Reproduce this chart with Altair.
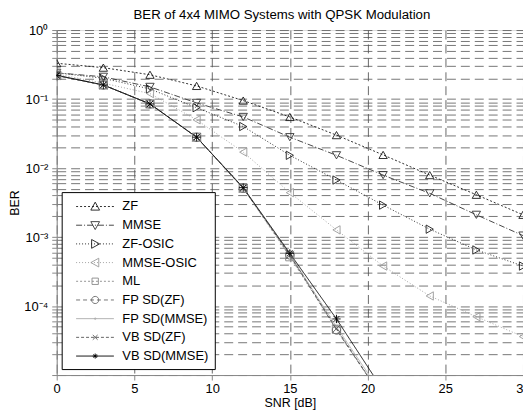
import altair as alt
import pandas as pd

# ---- data ----
snr = [0, 3, 6, 9, 12, 15, 18, 21, 24, 27, 30]
snr_sd = [0, 3, 6, 9, 12, 15, 18, 21]

zf = [0.33, 0.285, 0.225, 0.155, 0.095, 0.055, 0.030, 0.0155, 0.0079, 0.0041, 0.0021]
mmse = [0.24, 0.21, 0.15, 0.088, 0.055, 0.028, 0.0153, 0.0079, 0.0043, 0.0021, 0.00105]
zf_osic = [0.24, 0.20, 0.14, 0.075, 0.040, 0.0153, 0.0067, 0.0029, 0.0013, 0.00065, 0.00038]
mmse_osic = [0.23, 0.17, 0.12, 0.05, 0.017, 0.0044, 0.00127, 0.00038, 0.00014, 0.00007, 0.000036]
ml = [0.22, 0.16, 0.085, 0.028, 0.0051, 0.00052, 0.000046, 0.0000045]
fp_sd_zf = [0.22, 0.16, 0.085, 0.028, 0.0051, 0.00055, 0.000045, 0.0000045]
fp_sd_mmse = [0.22, 0.16, 0.085, 0.028, 0.0051, 0.00056, 0.000050, 0.000005]
vb_sd_zf = [0.22, 0.16, 0.085, 0.028, 0.0051, 0.00055, 0.000047, 0.0000045]
vb_sd_mmse = [0.22, 0.16, 0.085, 0.028, 0.0052, 0.00058, 0.000065, 0.000006]

series_names = ["ZF", "MMSE", "ZF-OSIC", "MMSE-OSIC", "ML",
                "FP SD(ZF)", "FP SD(MMSE)", "VB SD(ZF)", "VB SD(MMSE)"]
series_x = [snr, snr, snr, snr, snr_sd, snr_sd, snr_sd, snr_sd, snr_sd]
series_y = [zf, mmse, zf_osic, mmse_osic, ml, fp_sd_zf, fp_sd_mmse, vb_sd_zf, vb_sd_mmse]

x_ticks = [0, 5, 10, 15, 20, 25, 30]
y_tick_vals = [1, 0.1, 0.01, 0.001, 0.0001]
y_tick_labels = ["10⁰", "10⁻¹", "10⁻²", "10⁻³", "10⁻⁴"]
y_grid = [m * 10.0 ** e for e in range(-5, 0) for m in range(1, 10)] + [1]

title_text = "BER of 4x4 MIMO Systems with QPSK Modulation"

# ---- styles ----
colors = ["#1a1a1a", "#333333", "#1a1a1a", "#9a9a9a", "#8a8a8a",
          "#666666", "#aaaaaa", "#555555", "#000000"]
dashes = [[2, 2], [6, 2, 1, 2], [1, 2], [1, 2], [2, 2],
          [4, 3], [1, 0], [3, 2], [1, 0]]
plot_shapes = [
    "triangle-up", "triangle-down", "triangle-right", "triangle-left", "square",
    "circle", "M-0.25,0A0.25,0.25 0 1,1 0.25,0A0.25,0.25 0 1,1 -0.25,0",
    "M-1,-1L1,1M-1,1L1,-1",
    "M-1,0H1M0,-1V1M-0.7,-0.7L0.7,0.7M-0.7,0.7L0.7,-0.7",
]

UNIT = 8.0  # legend symbolSize 256 -> half width 8px


def seg_path(pattern):
    total = 4.75
    if pattern[1] == 0:
        return "M0,0H%.3f" % total
    out, pos, i, on = [], 0.0, 0, True
    while pos < total:
        L = pattern[i % len(pattern)] / UNIT
        if on:
            out.append("M%.3f,0H%.3f" % (pos, min(total, pos + L)))
        pos += L
        on = not on
        i += 1
    return "".join(out)


c = 2.4
legend_markers = [
    "M%.2f,-0.55L%.2f,0.45L%.2f,0.45Z" % (c, c + 0.55, c - 0.55),
    "M%.2f,0.55L%.2f,-0.45L%.2f,-0.45Z" % (c, c + 0.55, c - 0.55),
    "M%.2f,0L%.2f,-0.55L%.2f,0.55Z" % (c + 0.55, c - 0.45, c - 0.45),
    "M%.2f,0L%.2f,-0.55L%.2f,0.55Z" % (c - 0.55, c + 0.45, c + 0.45),
    "M%.2f,-0.4H%.2fV0.4H%.2fZ" % (c - 0.4, c + 0.4, c - 0.4),
    "M%.2f,0A0.45,0.45 0 1,1 %.2f,0A0.45,0.45 0 1,1 %.2f,0" % (c + 0.45, c - 0.45, c + 0.45),
    "M%.2f,0A0.1,0.1 0 1,1 %.2f,0A0.1,0.1 0 1,1 %.2f,0" % (c + 0.1, c - 0.1, c + 0.1),
    "M%.2f,-0.3L%.2f,0.3M%.2f,0.3L%.2f,-0.3" % (c - 0.3, c + 0.3, c - 0.3, c + 0.3),
    "M%.2f,0H%.2fM%.2f,-0.32V0.32M%.2f,-0.22L%.2f,0.22M%.2f,0.22L%.2f,-0.22"
    % (c - 0.32, c + 0.32, c, c - 0.22, c + 0.22, c - 0.22, c + 0.22),
]
legend_shapes = [seg_path(d) + m for d, m in zip(dashes, legend_markers)]

rows = []
for name, xs, ys in zip(series_names, series_x, series_y):
    for xv, yv in zip(xs, ys):
        rows.append({"series": name, "snr": xv, "ber": yv})
df = pd.DataFrame(rows)

FONT = "Liberation Sans"

label_expr = " : ".join(
    "datum.value == %r ? '%s'" % (v, lab) for v, lab in zip(y_tick_vals, y_tick_labels)
) + " : ''"

x_enc = alt.X("snr:Q", scale=alt.Scale(domain=[0, 30], nice=False),
              axis=alt.Axis(values=x_ticks, title="SNR [dB]", grid=True,
                            gridDash=[9, 5], gridColor="#444", gridWidth=0.8,
                            labelFontSize=13, labelPadding=3, titleFontSize=12.5,
                            titleFontWeight="normal", titlePadding=1, labelFlush=False))
y_enc = alt.Y("ber:Q", scale=alt.Scale(type="log", domain=[1e-5, 1], nice=False),
              axis=alt.Axis(values=y_grid, labelExpr=label_expr, labelOverlap=False,
                            title="BER", grid=True, gridDash=[9, 5], gridColor="#555",
                            gridWidth=0.8, labelFontSize=13, labelPadding=4,
                            titleFontSize=12.5, titleFontWeight="normal", titlePadding=2))

base = alt.Chart(df)

lines = base.mark_line(strokeWidth=0.9, clip=True).encode(
    x=x_enc, y=y_enc,
    color=alt.Color("series:N", scale=alt.Scale(domain=series_names, range=colors), legend=None),
    strokeDash=alt.StrokeDash("series:N", scale=alt.Scale(domain=series_names, range=dashes), legend=None),
    detail="series:N",
)

points = base.mark_point(filled=False, size=70, strokeWidth=0.9, opacity=1, clip=True).encode(
    x="snr:Q", y="ber:Q",
    color=alt.Color("series:N", scale=alt.Scale(domain=series_names, range=colors), legend=None),
    shape=alt.Shape("series:N", scale=alt.Scale(domain=series_names, range=plot_shapes), legend=None),
)

leg = alt.Legend(orient="none", legendX=5, legendY=163, title=None, padding=6,
                 symbolSize=256, labelOffset=38, rowPadding=2.8, fillColor="white",
                 strokeColor="black", symbolStrokeWidth=0.9, labelFont=FONT,
                 labelFontSize=13, labelColor="black", symbolOpacity=1, labelLimit=300)

legend_layer = base.transform_filter("false").mark_point(filled=False, opacity=1).encode(
    x="snr:Q", y="ber:Q",
    color=alt.Color("series:N", scale=alt.Scale(domain=series_names, range=colors), legend=leg),
    shape=alt.Shape("series:N", scale=alt.Scale(domain=series_names, range=legend_shapes), legend=leg),
)

main = alt.layer(lines, points)

chart = alt.layer(main, legend_layer).resolve_scale(
    color="independent", shape="independent"
).properties(
    width=469, height=347,
    title=alt.TitleParams(title_text, fontSize=13.3, font=FONT, fontWeight="normal",
                          anchor="middle", frame="group", offset=3, dx=-8, color="black"),
    autosize=alt.AutoSizeParams(type="none"),
    padding={"left": 49, "top": 21, "right": 0, "bottom": 36},
).configure_view(stroke="black", strokeWidth=1).configure_axis(
    domain=False, ticks=False, labelFont=FONT, titleFont=FONT,
    labelColor="black", titleColor="black", titleFontWeight="normal",
).configure(background="white")

chart.save("out.html", embed_options={"renderer": "svg", "actions": False})
